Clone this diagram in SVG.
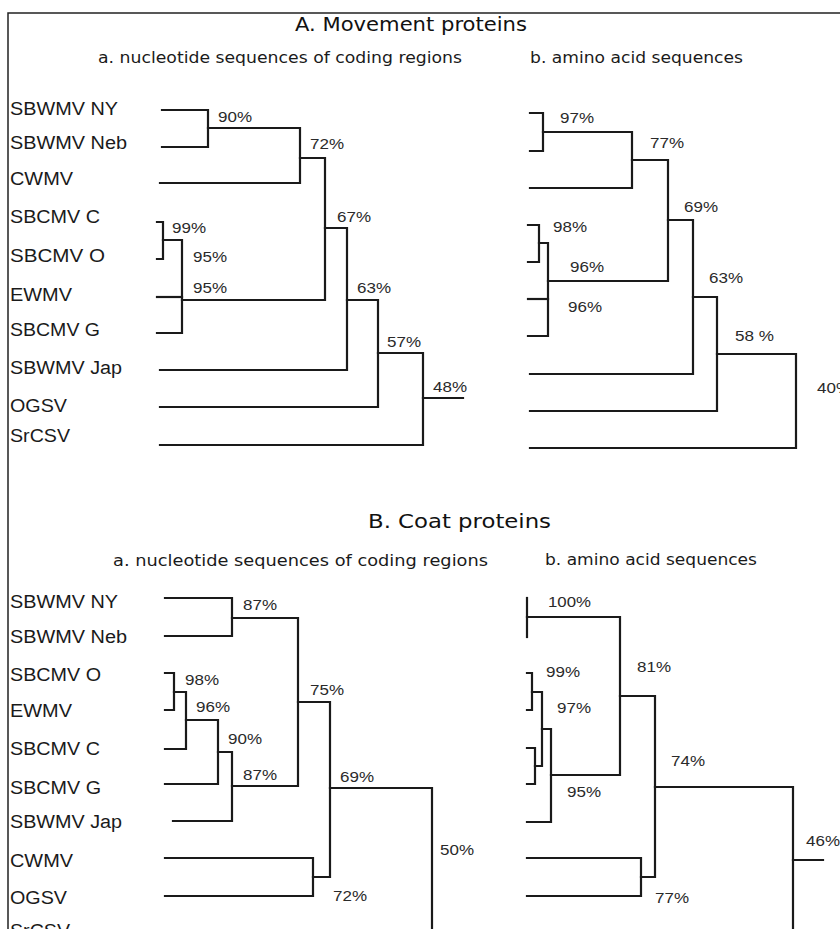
<svg xmlns="http://www.w3.org/2000/svg" width="840" height="929" viewBox="0 0 840 929">
<style>
.bg{fill:#fff}
.frame{fill:none;stroke:#222;stroke-width:1.5}
.br{fill:none;stroke:#1a1a1a;stroke-width:2.2;stroke-linecap:square}
.title{font-family:"DejaVu Sans",sans-serif;font-size:20px;fill:#111}
.sub{font-family:"DejaVu Sans",sans-serif;font-size:16.5px;fill:#1a1a1a}
.tax{font-family:"Liberation Sans",Arial,sans-serif;font-size:18px;fill:#1a1a1a}
.pc{font-family:"Liberation Sans",Arial,sans-serif;font-size:15.5px;fill:#2a2a2a}
</style>
<rect class="bg" x="0" y="0" width="840" height="929"/>
<path class="frame" d="M840,13 H8 V929"/>

<g id="titles">
<text class="title" x="295" y="31" textLength="232" lengthAdjust="spacingAndGlyphs">A. Movement proteins</text>
<text class="sub" x="98" y="63" textLength="364" lengthAdjust="spacingAndGlyphs">a. nucleotide sequences of coding regions</text>
<text class="sub" x="530" y="63" textLength="213" lengthAdjust="spacingAndGlyphs">b. amino acid sequences</text>
<text class="title" x="368" y="528" textLength="183" lengthAdjust="spacingAndGlyphs">B. Coat proteins</text>
<text class="sub" x="113" y="566" textLength="375" lengthAdjust="spacingAndGlyphs">a. nucleotide sequences of coding regions</text>
<text class="sub" x="545" y="565" textLength="212" lengthAdjust="spacingAndGlyphs">b. amino acid sequences</text>
</g>

<g id="taxa-A">
<g id="A-SBWMV-NY"><text class="tax" x="10" y="115" textLength="108" lengthAdjust="spacingAndGlyphs">SBWMV NY</text></g>
<g id="A-SBWMV-Neb"><text class="tax" x="10" y="149" textLength="117" lengthAdjust="spacingAndGlyphs">SBWMV Neb</text></g>
<g id="A-CWMV"><text class="tax" x="10" y="185" textLength="63" lengthAdjust="spacingAndGlyphs">CWMV</text></g>
<g id="A-SBCMV-C"><text class="tax" x="10" y="223" textLength="90" lengthAdjust="spacingAndGlyphs">SBCMV C</text></g>
<g id="A-SBCMV-O"><text class="tax" x="10" y="262" textLength="95" lengthAdjust="spacingAndGlyphs">SBCMV O</text></g>
<g id="A-EWMV"><text class="tax" x="10" y="301" textLength="62" lengthAdjust="spacingAndGlyphs">EWMV</text></g>
<g id="A-SBCMV-G"><text class="tax" x="10" y="336" textLength="90" lengthAdjust="spacingAndGlyphs">SBCMV G</text></g>
<g id="A-SBWMV-Jap"><text class="tax" x="10" y="374" textLength="112" lengthAdjust="spacingAndGlyphs">SBWMV Jap</text></g>
<g id="A-OGSV"><text class="tax" x="10" y="412" textLength="57" lengthAdjust="spacingAndGlyphs">OGSV</text></g>
<g id="A-SrCSV"><text class="tax" x="10" y="442" textLength="60" lengthAdjust="spacingAndGlyphs">SrCSV</text></g>
</g>

<g id="taxa-B">
<g id="B-SBWMV-NY"><text class="tax" x="10" y="608" textLength="108" lengthAdjust="spacingAndGlyphs">SBWMV NY</text></g>
<g id="B-SBWMV-Neb"><text class="tax" x="10" y="643" textLength="117" lengthAdjust="spacingAndGlyphs">SBWMV Neb</text></g>
<g id="B-SBCMV-O"><text class="tax" x="10" y="681" textLength="91" lengthAdjust="spacingAndGlyphs">SBCMV O</text></g>
<g id="B-EWMV"><text class="tax" x="10" y="717" textLength="62" lengthAdjust="spacingAndGlyphs">EWMV</text></g>
<g id="B-SBCMV-C"><text class="tax" x="10" y="755" textLength="90" lengthAdjust="spacingAndGlyphs">SBCMV C</text></g>
<g id="B-SBCMV-G"><text class="tax" x="10" y="794" textLength="91" lengthAdjust="spacingAndGlyphs">SBCMV G</text></g>
<g id="B-SBWMV-Jap"><text class="tax" x="10" y="828" textLength="112" lengthAdjust="spacingAndGlyphs">SBWMV Jap</text></g>
<g id="B-CWMV"><text class="tax" x="10" y="867" textLength="63" lengthAdjust="spacingAndGlyphs">CWMV</text></g>
<g id="B-OGSV"><text class="tax" x="10" y="904" textLength="57" lengthAdjust="spacingAndGlyphs">OGSV</text></g>
<g id="B-SrCSV"><text class="tax" x="10" y="937" textLength="60" lengthAdjust="spacingAndGlyphs">SrCSV</text></g>
</g>

<g id="connectors">
<g id="tree-Aa">
<path class="br" d="M162,110 H208 V147 H162"/>
<path class="br" d="M208,128 H300 V183 H160"/>
<path class="br" d="M300,158 H325 V300 H182"/>
<path class="br" d="M325,228 H347 V370 H160"/>
<path class="br" d="M157,222 H163 V259 H157"/>
<path class="br" d="M163,240 H182 V333 H157"/>
<path class="br" d="M157,297 H182"/>
<path class="br" d="M347,300 H378 V407 H160"/>
<path class="br" d="M378,353 H423 V445 H160"/>
<path class="br" d="M423,398 H463"/>
</g>
<g id="tree-Ab">
<path class="br" d="M530,113 H543 V151 H530"/>
<path class="br" d="M543,132 H632 V188 H530"/>
<path class="br" d="M632,160 H668 V281 H548"/>
<path class="br" d="M668,220 H693 V374 H530"/>
<path class="br" d="M528,225 H539 V262 H528"/>
<path class="br" d="M539,243 H548 V336 H528"/>
<path class="br" d="M528,299 H548"/>
<path class="br" d="M693,297 H717 V411 H530"/>
<path class="br" d="M717,354 H796 V448 H530"/>
</g>
<g id="tree-Ba">
<path class="br" d="M165,598 H232 V636 H165"/>
<path class="br" d="M232,618 H298 V786 H232"/>
<path class="br" d="M298,702 H330 V877 H313"/>
<path class="br" d="M165,673 H174 V710 H165"/>
<path class="br" d="M174,692 H186 V749 H165"/>
<path class="br" d="M186,720 H218 V784 H165"/>
<path class="br" d="M218,752 H232 V821 H173"/>
<path class="br" d="M330,788 H432 V930"/>
<path class="br" d="M165,858 H313 V896 H165"/>
</g>
<g id="tree-Bb">
<path class="br" d="M527,598 V637"/>
<path class="br" d="M527,617 H620 V775 H551"/>
<path class="br" d="M620,696 H655 V877 H641"/>
<path class="br" d="M527,673 H532 V710 H527"/>
<path class="br" d="M532,692 H542 V766 H535"/>
<path class="br" d="M527,748 H535 V784 H527"/>
<path class="br" d="M542,729 H551 V822 H527"/>
<path class="br" d="M655,787 H793 V930"/>
<path class="br" d="M793,860 H823"/>
<path class="br" d="M527,858 H641 V896 H527"/>
</g>
</g>

<g id="values-Aa">
<text class="pc" x="218" y="122" textLength="34" lengthAdjust="spacingAndGlyphs">90%</text>
<text class="pc" x="310" y="149" textLength="34" lengthAdjust="spacingAndGlyphs">72%</text>
<text class="pc" x="337" y="222" textLength="34" lengthAdjust="spacingAndGlyphs">67%</text>
<text class="pc" x="172" y="233" textLength="34" lengthAdjust="spacingAndGlyphs">99%</text>
<text class="pc" x="193" y="262" textLength="34" lengthAdjust="spacingAndGlyphs">95%</text>
<text class="pc" x="193" y="293" textLength="34" lengthAdjust="spacingAndGlyphs">95%</text>
<text class="pc" x="357" y="293" textLength="34" lengthAdjust="spacingAndGlyphs">63%</text>
<text class="pc" x="387" y="347" textLength="34" lengthAdjust="spacingAndGlyphs">57%</text>
<text class="pc" x="433" y="392" textLength="34" lengthAdjust="spacingAndGlyphs">48%</text>
</g>
<g id="values-Ab">
<text class="pc" x="560" y="123" textLength="34" lengthAdjust="spacingAndGlyphs">97%</text>
<text class="pc" x="650" y="148" textLength="34" lengthAdjust="spacingAndGlyphs">77%</text>
<text class="pc" x="684" y="212" textLength="34" lengthAdjust="spacingAndGlyphs">69%</text>
<text class="pc" x="553" y="232" textLength="34" lengthAdjust="spacingAndGlyphs">98%</text>
<text class="pc" x="570" y="272" textLength="34" lengthAdjust="spacingAndGlyphs">96%</text>
<text class="pc" x="568" y="312" textLength="34" lengthAdjust="spacingAndGlyphs">96%</text>
<text class="pc" x="709" y="283" textLength="34" lengthAdjust="spacingAndGlyphs">63%</text>
<text class="pc" x="735" y="341" textLength="39" lengthAdjust="spacingAndGlyphs">58 %</text>
<text class="pc" x="817" y="393" textLength="34" lengthAdjust="spacingAndGlyphs">40%</text>
</g>
<g id="values-Ba">
<text class="pc" x="243" y="610" textLength="34" lengthAdjust="spacingAndGlyphs">87%</text>
<text class="pc" x="310" y="695" textLength="34" lengthAdjust="spacingAndGlyphs">75%</text>
<text class="pc" x="185" y="685" textLength="34" lengthAdjust="spacingAndGlyphs">98%</text>
<text class="pc" x="196" y="712" textLength="34" lengthAdjust="spacingAndGlyphs">96%</text>
<text class="pc" x="228" y="744" textLength="34" lengthAdjust="spacingAndGlyphs">90%</text>
<text class="pc" x="243" y="780" textLength="34" lengthAdjust="spacingAndGlyphs">87%</text>
<text class="pc" x="340" y="782" textLength="34" lengthAdjust="spacingAndGlyphs">69%</text>
<text class="pc" x="440" y="855" textLength="34" lengthAdjust="spacingAndGlyphs">50%</text>
<text class="pc" x="333" y="901" textLength="34" lengthAdjust="spacingAndGlyphs">72%</text>
</g>
<g id="values-Bb">
<text class="pc" x="548" y="607" textLength="43" lengthAdjust="spacingAndGlyphs">100%</text>
<text class="pc" x="637" y="672" textLength="34" lengthAdjust="spacingAndGlyphs">81%</text>
<text class="pc" x="546" y="677" textLength="34" lengthAdjust="spacingAndGlyphs">99%</text>
<text class="pc" x="557" y="713" textLength="34" lengthAdjust="spacingAndGlyphs">97%</text>
<text class="pc" x="567" y="797" textLength="34" lengthAdjust="spacingAndGlyphs">95%</text>
<text class="pc" x="671" y="766" textLength="34" lengthAdjust="spacingAndGlyphs">74%</text>
<text class="pc" x="655" y="903" textLength="34" lengthAdjust="spacingAndGlyphs">77%</text>
<text class="pc" x="806" y="846" textLength="34" lengthAdjust="spacingAndGlyphs">46%</text>
</g>
</svg>
